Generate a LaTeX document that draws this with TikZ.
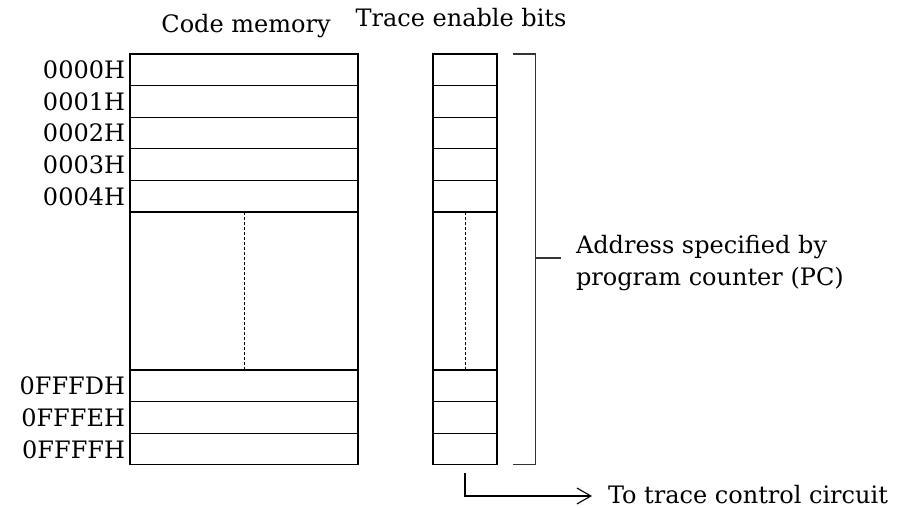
\documentclass[tikz,border=0pt]{standalone}
\usepackage{fontspec}
\setmainfont{DejaVu Serif}
\usetikzlibrary{arrows.meta}
\begin{document}
\begin{tikzpicture}[x=1pt,y=-1pt,
  every node/.style={inner sep=0pt, outer sep=0pt, font=\fontsize{24}{32}\selectfont},
  cell/.style={draw, line width=1.2pt, minimum height=31.6pt},
  codecell/.style={cell, minimum width=228pt},
  bitcell/.style={cell, minimum width=64pt},
  dashline/.style={line width=0.8pt, dash pattern=on 3pt off 2pt},
  brk/.style={line width=1.1pt, black!80},
  arr/.style={line width=1.1pt, -{Straight Barb[length=14pt,width=16pt,line width=1.1pt]}}]
\useasboundingbox (0,0) rectangle (898,508);
% headers
\node[anchor=base] (hcode) at (246,33) {Code memory};
\node[anchor=base] (hbits) at (461,27) {Trace enable bits};
% rows
\foreach \n/\y/\t in {0/69.8/0000H,1/101.4/0001H,2/133.0/0002H,3/164.6/0003H,4/196.2/0004H,5/385.8/0FFFDH,6/417.4/0FFFEH,7/449.0/0FFFFH}{
  \node[codecell] (c\n) at (244,\y) {};
  \node[bitcell] (b\n) at (465,\y) {};
  \node[anchor=base east] (l\n) at (125,{\y+9}) {\t};
}
% gap regions
\node[codecell, minimum height=158pt] (cg) at (244,291) {};
\node[bitcell, minimum height=158pt] (bg) at (465,291) {};
\draw[dashline] (cg.north) -- (cg.south);
\draw[dashline] (bg.north) -- (bg.south);
% bracket
\coordinate (bk0) at (513,54);
\coordinate (bk1) at (535.5,54);
\coordinate (bk2) at (535.5,464.8);
\coordinate (bk3) at (513,464.8);
\draw[brk] (bk0) -- (bk1) -- (bk2) -- (bk3);
\coordinate (bm) at (535.5,258);
\coordinate (bt) at (561,258);
\draw[brk] (bm) -- (bt);
\node[anchor=base west] (addr1) at (576,254) {Address specified by};
\node[anchor=base west] (addr2) at (576,286) {program counter (PC)};
% arrow to trace control circuit
\coordinate (as) at (465,473);
\coordinate (ae) at (592,496);
\draw[arr] (as) |- (ae);
\node[anchor=base west] (tgt) at (608,503) {To trace control circuit};
\end{tikzpicture}
\end{document}
